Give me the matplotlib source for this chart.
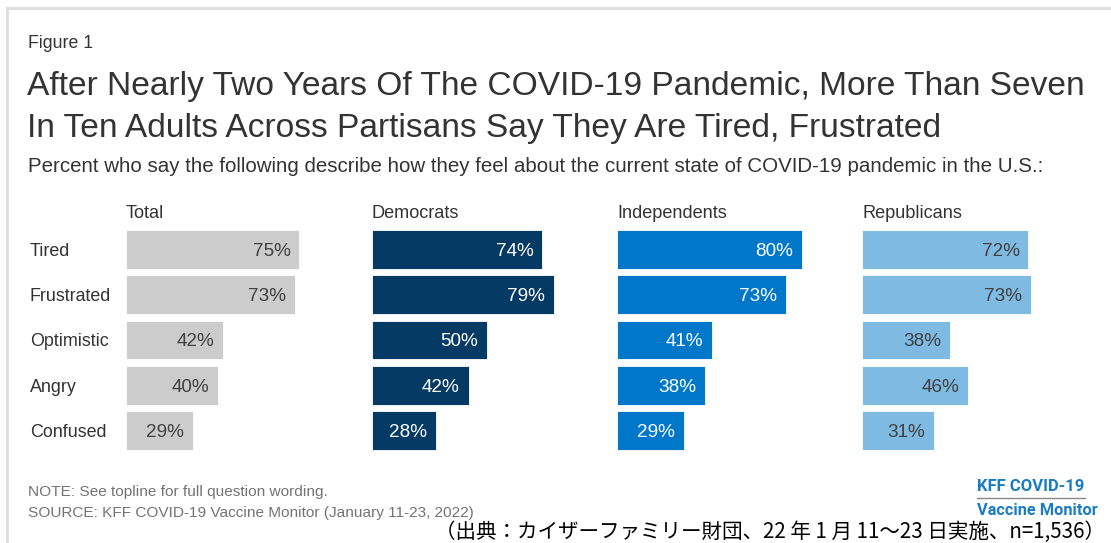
import matplotlib.pyplot as plt
from matplotlib.lines import Line2D

# data
feelings = ['Tired', 'Frustrated', 'Optimistic', 'Angry', 'Confused']
groups = ['Total', 'Democrats', 'Independents', 'Republicans']
total = [75, 73, 42, 40, 29]
democrats = [74, 79, 50, 42, 28]
independents = [80, 73, 41, 38, 29]
republicans = [72, 73, 38, 46, 31]

series = [total, democrats, independents, republicans]
bar_colors = ['#cccccc', '#053a65', '#0077c8', '#7fbae3']
label_colors = ['#404040', '#ffffff', '#ffffff', '#404040']

W, H = 1111, 543
fig = plt.figure(figsize=(W / 100, H / 100), dpi=100)
plt.rcParams['font.family'] = ['Liberation Sans', 'DejaVu Sans']


def fx(px):
    return px / W


def fy(py):
    return 1 - py / H


# thin frame at top and left
fig.add_artist(Line2D([fx(7), fx(W)], [fy(8), fy(8)], color='#dddddd', lw=2))
fig.add_artist(Line2D([fx(7), fx(7)], [fy(8), fy(H)], color='#dddddd', lw=2))

fig.text(fx(28), fy(48), 'Figure 1', fontsize=12.8, color='#333333')
fig.text(fx(27), fy(95), 'After Nearly Two Years Of The COVID-19 Pandemic, More Than Seven',
         fontsize=24.1, color='#333333')
fig.text(fx(27), fy(137), 'In Ten Adults Across Partisans Say They Are Tired, Frustrated',
         fontsize=24.1, color='#333333')
fig.text(fx(28), fy(172.5), 'Percent who say the following describe how they feel about the '
         'current state of COVID-19 pandemic in the U.S.:', fontsize=14.8, color='#333333')

# panels
panel_left = [126, 371.5, 617, 862]
row_top, row_bottom = 226.9, 453.1
scale = 2.31  # px per percentage point

for k, (vals, name) in enumerate(zip(series, groups)):
    ax = fig.add_axes([fx(panel_left[k]), fy(row_bottom), fx(100 * scale), (row_bottom - row_top) / H])
    ypos = list(range(len(feelings)))
    ax.barh(ypos, vals, height=0.855, color=bar_colors[k], edgecolor='white', linewidth=0.6)
    ax.set_xlim(0, 100)
    ax.set_ylim(len(feelings) - 0.5, -0.5)
    for i, v in enumerate(vals):
        ax.text(v - 3.8, i + 0.04, f'{v}%', ha='right', va='center', fontsize=13.6, color=label_colors[k])
    ax.set_xticks([])
    if k == 0:
        ax.set_yticks(ypos)
        ax.set_yticklabels(feelings, fontsize=12.9, color='#333333', ha='left')
        ax.tick_params(axis='y', length=0, pad=(126 - 30) * 0.72)
    else:
        ax.set_yticks([])
    for s in ax.spines.values():
        s.set_visible(False)
    ax.patch.set_alpha(0)
    fig.text(fx(panel_left[k]), fy(218), name, fontsize=13.1, color='#333333')

# notes
fig.text(fx(28), fy(496), 'NOTE: See topline for full question wording.', fontsize=11.1, color='#737373')
fig.text(fx(28), fy(517), 'SOURCE: KFF COVID-19 Vaccine Monitor (January 11-23, 2022)',
         fontsize=11.1, color='#737373')

# logo
fig.text(fx(977), fy(491), 'KFF COVID-19', fontsize=12, fontweight='bold', color='#1a7cc1',
         family=['Roboto', 'DejaVu Sans'])
fig.add_artist(Line2D([fx(977), fx(1085)], [fy(498), fy(498)], color='#888888', lw=1))
fig.text(fx(977), fy(515), 'Vaccine Monitor', fontsize=11.8, fontweight='bold', color='#1a7cc1',
         family=['Roboto', 'DejaVu Sans'])

fig.text(fx(1105), fy(538), '（出典：カイザーファミリー財団、22 年 1 月 11〜23 日実施、n=1,536）',
         fontsize=14.8, color='#000000', ha='right', family=['Noto Sans CJK JP', 'DejaVu Sans'])

fig.savefig('out.png', dpi=100)
